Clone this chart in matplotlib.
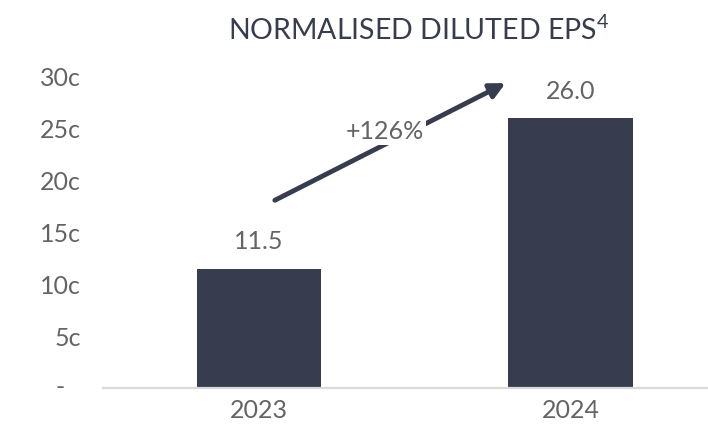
import matplotlib
matplotlib.use("Agg")
import matplotlib.pyplot as plt
import matplotlib.transforms as mtransforms

categories = ["2023", "2024"]
eps_values = [11.5, 26.0]
value_labels = ["11.5", "26.0"]
y_ticks = [0, 5, 10, 15, 20, 25, 30]
y_tick_labels = ["-", "5c", "10c", "15c", "20c", "25c", "30c"]
growth_label = "+126%"
title = "NORMALISED DILUTED EPS$^{4}$"

bar_color = "#373d4f"
text_gray = "#646464"

plt.rcParams['font.family'] = ['Lato', 'DejaVu Sans']
plt.rcParams['mathtext.fontset'] = 'custom'
plt.rcParams['mathtext.rm'] = 'Lato'

fig = plt.figure(figsize=(7.08, 4.32), dpi=100)
ax = fig.add_axes([0.1455, 0.102, 0.8545, 0.720])

x = list(range(len(categories)))
ax.bar(x, eps_values, width=0.4, color=bar_color, zorder=2)
ax.set_xlim(-0.5, 1.44)
ax.set_ylim(0, 30)

for xi, v, lab in zip(x, eps_values, value_labels):
    ax.text(xi, v + 2.6, lab, ha='center', va='center', fontsize=18,
            color=text_gray, clip_on=False)

# zero label ("-") is centred further left, like an accounting format
ax.set_yticks(y_ticks)
ax.set_yticklabels([""] + y_tick_labels[1:])
trans = mtransforms.blended_transform_factory(ax.transAxes, ax.transData)
ax.text(-0.071, y_ticks[0], y_tick_labels[0], transform=trans, ha='center',
        va='center', fontsize=18, color=text_gray, clip_on=False)

ax.set_xticks(x)
ax.set_xticklabels(categories)
ax.tick_params(axis='y', length=0, labelsize=18, labelcolor=text_gray, pad=16)
ax.tick_params(axis='x', length=0, labelsize=18, labelcolor=text_gray, pad=8)

for s in ['top', 'right', 'left']:
    ax.spines[s].set_visible(False)
ax.spines['bottom'].set_color('#d9d9d9')
ax.spines['bottom'].set_linewidth(1.6)

# growth arrow
ax.annotate("", xy=(0.791, 29.4), xytext=(0.051, 18.1),
            arrowprops=dict(arrowstyle="-|>,head_length=0.9,head_width=0.45",
                            color=bar_color, lw=3.5, shrinkA=0, shrinkB=0),
            zorder=3, annotation_clip=False)
ax.text(0.404, 24.7, growth_label, ha='center', va='center', fontsize=18,
        color=text_gray, zorder=4,
        bbox=dict(facecolor='white', edgecolor='none', pad=1.5))

fig.text(0.592, 0.930, title, ha='center', va='center', fontsize=20.5,
         color=bar_color)

fig.savefig("out.png", dpi=100)
